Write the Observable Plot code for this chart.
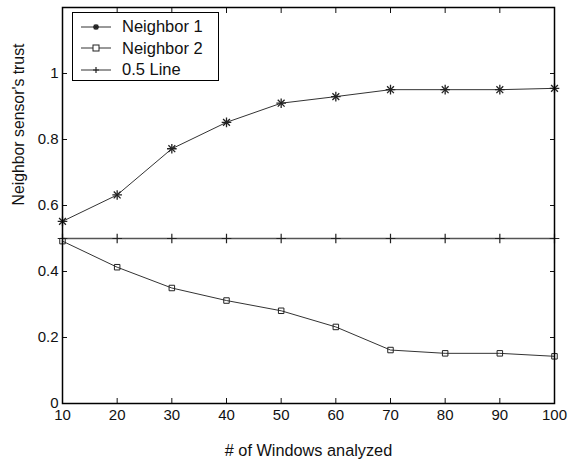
<!DOCTYPE html>
<html><head><meta charset="utf-8">
<script src="https://cdn.jsdelivr.net/npm/d3@7"></script>
<script src="https://cdn.jsdelivr.net/npm/@observablehq/plot@0.6"></script>
<style>
body{margin:0;background:#fff;font-family:"Liberation Sans",Arial,sans-serif;}
#wrap{position:relative;width:568px;height:461px;}
#legend{position:absolute;left:72px;top:12px;width:145px;height:67px;border:1.5px solid #000;background:#fff;font-size:16.5px;color:#111;}
.row{position:absolute;left:8px;height:20px;display:flex;align-items:center;}
.row svg{margin-right:11px;}
</style>
</head><body><div id="wrap"><div id="legend"></div></div>
<script>
const windows = [10,20,30,40,50,60,70,80,90,100];
const neighbor1 = [0.552,0.632,0.772,0.852,0.91,0.93,0.951,0.951,0.951,0.955];
const neighbor2 = [0.492,0.413,0.35,0.312,0.281,0.232,0.162,0.152,0.152,0.143];
const halfLine = [0.5,0.5,0.5,0.5,0.5,0.5,0.5,0.5,0.5,0.5];
const xTicks = [10,20,30,40,50,60,70,80,90,100];
const yTicks = [0,0.2,0.4,0.6,0.8,1];
const seriesNames = ["Neighbor 1","Neighbor 2","0.5 Line"];
const xLabel = "# of Windows analyzed";
const yLabel = "Neighbor sensor's trust";

const d1 = windows.map((w,i)=>({x:w,y:neighbor1[i]}));
const d2 = windows.map((w,i)=>({x:w,y:neighbor2[i]}));
const d3h = windows.map((w,i)=>({x:w,y:halfLine[i]}));
const lc = "#333";

const chart = Plot.plot({
  width:568, height:461,
  marginLeft:62, marginRight:14, marginTop:7, marginBottom:58,
  style:{fontFamily:'"Liberation Sans",Arial,sans-serif', fontSize:"15px", color:"#111", background:"#fff", overflow:"visible"},
  x:{domain:[10,100]},
  y:{domain:[0,1.2]},
  marks:[
    Plot.axisX({ticks:xTicks, tickSize:-5, text:null, label:null, strokeWidth:1}),
    Plot.axisX({anchor:"top", ticks:xTicks, tickSize:-5, text:null, label:null, strokeWidth:1}),
    Plot.axisY({ticks:yTicks, tickSize:-5, text:null, label:null, strokeWidth:1}),
    Plot.axisY({anchor:"right", ticks:yTicks, tickSize:-5, text:null, label:null, strokeWidth:1}),
    Plot.axisX({ticks:xTicks, tickSize:0, tickPadding:6, label:null, fontSize:15}),
    Plot.axisY({ticks:yTicks, tickSize:0, tickPadding:4, tickFormat:d=>String(d), label:null, fontSize:15}),
    Plot.text([xLabel],{frameAnchor:"bottom", dy:52, fontSize:16.3, fill:"#111"}),
    Plot.text([yLabel],{frameAnchor:"left", dx:-44, rotate:-90, fontSize:15.8, fill:"#111"}),
    Plot.line(d3h,{x:"x",y:"y",stroke:"#555",strokeWidth:1.6}),
    Plot.dot(d3h,{x:"x",y:"y",symbol:"plus",r:3.2,stroke:"#222",strokeWidth:1.2}),
    Plot.line(d1,{x:"x",y:"y",stroke:lc,strokeWidth:1}),
    Plot.dot(d1,{x:"x",y:"y",symbol:"plus",r:3.2,stroke:"#222",strokeWidth:1.3}),
    Plot.dot(d1,{x:"x",y:"y",symbol:"times",r:3.2,stroke:"#222",strokeWidth:1.3}),
    Plot.line(d2,{x:"x",y:"y",stroke:lc,strokeWidth:1}),
    Plot.dot(d2,{x:"x",y:"y",symbol:"square",r:3.1,fill:"none",stroke:"#222",strokeWidth:1}),
    Plot.frame({stroke:"#000",strokeWidth:1.5})
  ]
});
document.getElementById("wrap").prepend(chart);

const sym = [
  '<path d="M12 6h6M15 3v6M12.8 3.8l4.4 4.4M17.2 3.8l-4.4 4.4" stroke="#222" stroke-width="1.3"/>',
  '<rect x="12" y="3" width="6" height="6" fill="#fff" stroke="#222" stroke-width="1"/>',
  '<path d="M12 6h6M15 3v6" stroke="#222" stroke-width="1.2"/>'
];
const leg = document.getElementById("legend");
seriesNames.forEach((name,i)=>{
  const r = document.createElement("div");
  r.className="row";
  r.style.top = (3.5+i*21.6)+"px";
  r.innerHTML = `<svg width="30" height="12"><line x1="0" y1="6" x2="30" y2="6" stroke="#333" stroke-width="1"/>${sym[i]}</svg><span>${name}</span>`;
  leg.appendChild(r);
});
</script>
</body></html>
